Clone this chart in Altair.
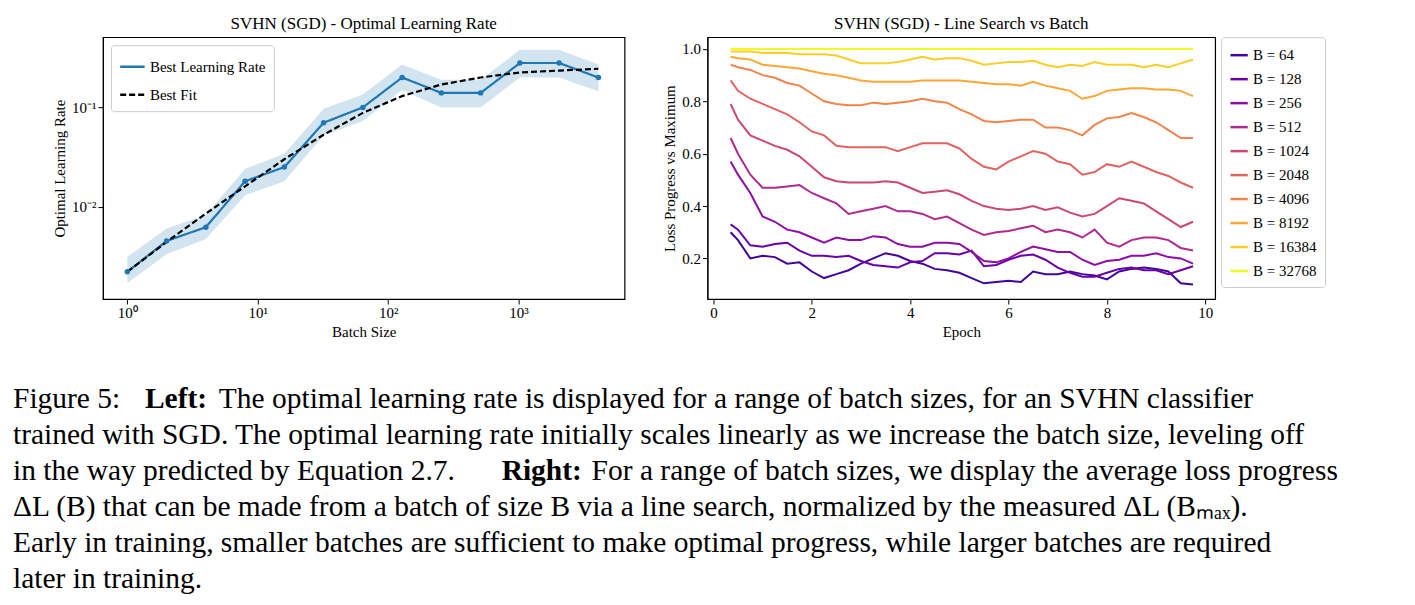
import altair as alt
import pandas as pd

FONT = "Liberation Serif"

# ---- left panel data ----
batch = [1, 2, 4, 8, 16, 32, 64, 128, 256, 512, 1024, 2048, 4096]
best_lr = [0.0022, 0.0045, 0.0062, 0.018, 0.025, 0.07, 0.1, 0.2, 0.14, 0.14, 0.28, 0.28, 0.2]
lr_lo = [0.0017, 0.0033, 0.0047, 0.013, 0.018, 0.052, 0.073, 0.15, 0.10, 0.10, 0.2, 0.2, 0.145]
lr_hi = [0.0031, 0.006, 0.0082, 0.024, 0.034, 0.097, 0.135, 0.27, 0.19, 0.19, 0.38, 0.38, 0.27]
best_fit = [0.0022, 0.0044, 0.0085, 0.016, 0.03, 0.053, 0.088, 0.13, 0.17, 0.2, 0.225, 0.235, 0.245]

# ---- right panel data ----
epochs = [0.35, 0.5, 0.75, 1, 1.25, 1.5, 1.75, 2, 2.25, 2.5, 2.75, 3, 3.25, 3.5, 3.75, 4, 4.25, 4.5, 4.75, 5,
          5.25, 5.5, 5.75, 6, 6.25, 6.5, 6.75, 7, 7.25, 7.5, 7.75, 8, 8.25, 8.5, 8.75, 9, 9.25, 9.5, 9.75]
b64 = [0.30, 0.27, 0.20, 0.21, 0.205, 0.18, 0.185, 0.15, 0.125, 0.14, 0.155, 0.18, 0.20, 0.22, 0.21, 0.19, 0.18, 0.16, 0.155, 0.145,
       0.125, 0.105, 0.11, 0.115, 0.11, 0.15, 0.14, 0.14, 0.15, 0.14, 0.135, 0.12, 0.15, 0.16, 0.165, 0.16, 0.15, 0.105, 0.10]
b128 = [0.33, 0.31, 0.25, 0.245, 0.255, 0.26, 0.23, 0.21, 0.21, 0.205, 0.21, 0.19, 0.175, 0.17, 0.165, 0.185, 0.19, 0.22, 0.22, 0.215,
        0.23, 0.17, 0.175, 0.195, 0.21, 0.215, 0.195, 0.165, 0.145, 0.13, 0.13, 0.145, 0.16, 0.165, 0.155, 0.155, 0.14, 0.155, 0.17]
b256 = [0.57, 0.52, 0.45, 0.36, 0.34, 0.31, 0.30, 0.28, 0.26, 0.28, 0.27, 0.27, 0.285, 0.28, 0.255, 0.245, 0.245, 0.26, 0.26, 0.255,
        0.225, 0.19, 0.185, 0.20, 0.225, 0.245, 0.235, 0.225, 0.225, 0.195, 0.175, 0.19, 0.195, 0.21, 0.21, 0.22, 0.205, 0.20, 0.18]
b512 = [0.66, 0.60, 0.52, 0.47, 0.47, 0.475, 0.48, 0.45, 0.43, 0.41, 0.37, 0.38, 0.39, 0.40, 0.38, 0.38, 0.37, 0.35, 0.36, 0.335,
        0.31, 0.29, 0.30, 0.305, 0.315, 0.325, 0.30, 0.31, 0.30, 0.28, 0.31, 0.26, 0.245, 0.27, 0.28, 0.28, 0.27, 0.24, 0.23]
b1024 = [0.79, 0.73, 0.67, 0.65, 0.63, 0.615, 0.59, 0.55, 0.51, 0.495, 0.49, 0.49, 0.49, 0.495, 0.49, 0.47, 0.45, 0.455, 0.46, 0.445,
         0.42, 0.40, 0.39, 0.385, 0.39, 0.40, 0.385, 0.395, 0.375, 0.36, 0.37, 0.40, 0.43, 0.42, 0.41, 0.38, 0.35, 0.32, 0.34]
b2048 = [0.88, 0.84, 0.81, 0.79, 0.77, 0.75, 0.72, 0.685, 0.67, 0.63, 0.625, 0.625, 0.625, 0.625, 0.61, 0.625, 0.64, 0.64, 0.64, 0.62,
         0.58, 0.55, 0.54, 0.57, 0.59, 0.61, 0.60, 0.57, 0.56, 0.52, 0.53, 0.56, 0.55, 0.57, 0.55, 0.53, 0.515, 0.49, 0.47]
b4096 = [0.94, 0.93, 0.92, 0.90, 0.89, 0.87, 0.86, 0.83, 0.80, 0.79, 0.785, 0.785, 0.795, 0.79, 0.795, 0.80, 0.81, 0.80, 0.795, 0.77,
         0.75, 0.725, 0.72, 0.725, 0.73, 0.73, 0.70, 0.70, 0.69, 0.67, 0.71, 0.735, 0.74, 0.755, 0.74, 0.72, 0.69, 0.66, 0.66]
b8192 = [0.97, 0.965, 0.96, 0.94, 0.935, 0.93, 0.925, 0.915, 0.905, 0.90, 0.89, 0.88, 0.875, 0.875, 0.875, 0.875, 0.88, 0.88, 0.88, 0.88,
         0.875, 0.87, 0.865, 0.865, 0.86, 0.875, 0.86, 0.85, 0.84, 0.81, 0.82, 0.84, 0.845, 0.85, 0.85, 0.845, 0.845, 0.84, 0.82]
b16384 = [0.99, 0.99, 0.99, 0.985, 0.985, 0.985, 0.98, 0.98, 0.98, 0.975, 0.96, 0.945, 0.945, 0.945, 0.95, 0.96, 0.97, 0.96, 0.965, 0.965,
          0.955, 0.94, 0.945, 0.95, 0.95, 0.955, 0.94, 0.93, 0.94, 0.935, 0.95, 0.94, 0.94, 0.94, 0.93, 0.94, 0.93, 0.945, 0.96]
b32768 = [1.0] * len(epochs)

series = {64: b64, 128: b128, 256: b256, 512: b512, 1024: b1024, 2048: b2048,
          4096: b4096, 8192: b8192, 16384: b16384, 32768: b32768}
plasma = ["#41049d", "#6a00a8", "#8f0da4", "#b12a90", "#cc4778", "#e16462",
          "#f2844b", "#fca636", "#fcce25", "#f0f921"]

# ---- caption (text, bold, x on page, line) ----
caption = [
    ("Figure 5:", False, 0, 0),
    ("Left:", True, 132, 0),
    ("The optimal learning rate is displayed for a range of batch sizes, for an SVHN classifier", False, 206, 0),
    ("trained with SGD. The optimal learning rate initially scales linearly as we increase the batch size, leveling off", False, 0, 1),
    ("in the way predicted by Equation 2.7.", False, 0, 2),
    ("Right:", True, 489, 2),
    ("For a range of batch sizes, we display the average loss progress", False, 579, 2),
    ("ΔL (B) that can be made from a batch of size B via a line search, normalized by the measured ΔL (Bₘₐₓ).", False, 0, 3),
    ("Early in training, smaller batches are sufficient to make optimal progress, while larger batches are required", False, 0, 4),
    ("later in training.", False, 0, 5),
]

# ---------------- left chart ----------------
ldf = pd.DataFrame({"batch": batch, "lr": best_lr, "lo": lr_lo, "hi": lr_hi})
fdf = pd.DataFrame({"batch": batch, "lr": best_fit})
both = pd.concat([ldf.assign(s="Best Learning Rate")[["batch", "lr", "s"]], fdf.assign(s="Best Fit")])

xs = alt.Scale(type="log", domain=[0.65, 6500], nice=False)
ys = alt.Scale(type="log", domain=[0.00117, 0.51], nice=False)
xax = alt.Axis(values=[1, 10, 100, 1000], grid=False, title="Batch Size",
               labelExpr="datum.value==1?'10⁰':datum.value==10?'10¹':datum.value==100?'10²':'10³'")
yax = alt.Axis(values=[0.01, 0.1], grid=False, title="Optimal Learning Rate",
               labelExpr="datum.value<0.05?'10⁻²':'10⁻¹'")

band = alt.Chart(ldf).mark_area(color="#1f77b4", opacity=0.2).encode(
    x=alt.X("batch:Q", scale=xs, axis=xax), y=alt.Y("lo:Q", scale=ys, axis=yax), y2="hi:Q")
lines = alt.Chart(both).mark_line(strokeWidth=2.2).encode(
    x=alt.X("batch:Q", scale=xs), y=alt.Y("lr:Q", scale=ys),
    color=alt.Color("s:N", scale=alt.Scale(domain=["Best Learning Rate", "Best Fit"], range=["#1f77b4", "black"]),
                    legend=alt.Legend(title=None, orient="top-left", fillColor="white", strokeColor="#cccccc",
                                      padding=8, cornerRadius=3, labelFontSize=15, symbolSize=600,
                                      symbolStrokeWidth=2.5, rowPadding=6, offset=8)),
    strokeDash=alt.StrokeDash("s:N", scale=alt.Scale(domain=["Best Learning Rate", "Best Fit"], range=[[1, 0], [6, 3]]),
                              legend=None))
pts = alt.Chart(ldf).mark_point(filled=True, size=30, color="#1f77b4", opacity=1).encode(
    x=alt.X("batch:Q", scale=xs), y=alt.Y("lr:Q", scale=ys))
left = alt.layer(band, lines, pts).properties(
    width=522, height=262, title="SVHN (SGD) - Optimal Learning Rate")

# ---------------- right chart ----------------
rows = []
for b, vals in series.items():
    for e, v in zip(epochs, vals):
        rows.append({"epoch": e, "v": v, "B": f"B = {b}", "order": b})
rdf = pd.DataFrame(rows)
labels = [f"B = {b}" for b in series]
right = alt.Chart(rdf).mark_line(strokeWidth=2).encode(
    x=alt.X("epoch:Q", scale=alt.Scale(domain=[-0.12, 10.2], nice=False),
            axis=alt.Axis(values=[0, 2, 4, 6, 8, 10], grid=False, title="Epoch")),
    y=alt.Y("v:Q", scale=alt.Scale(domain=[0.045, 1.045], nice=False),
            axis=alt.Axis(values=[0.2, 0.4, 0.6, 0.8, 1.0], format=".1f", grid=False, title="Loss Progress vs Maximum")),
    color=alt.Color("B:N", sort=labels, scale=alt.Scale(domain=labels, range=plasma),
                    legend=alt.Legend(title=None, orient="right", strokeColor="#cccccc", padding=8,
                                      cornerRadius=3, labelFontSize=15, symbolType="stroke",
                                      symbolStrokeWidth=2.5, symbolSize=300, rowPadding=6, offset=6)),
    detail="order:Q",
).properties(width=508, height=262, title="SVHN (SGD) - Line Search vs Batch")

top = alt.hconcat(left, right, spacing=36).resolve_scale(color="independent", strokeDash="independent")

# ---------------- caption ----------------
cdf = pd.DataFrame([{"t": t, "bold": "bold" if b else "normal", "x": x, "line": l} for t, b, x, l in caption])
CW = 1300
cap_base = alt.Chart(cdf).encode(
    x=alt.X("x:Q", scale=alt.Scale(domain=[90, 90 + CW], range=[0, CW]), axis=None),
    y=alt.Y("line:Q", scale=alt.Scale(domain=[-0.5, 5.5], range=[0, 216]), axis=None),
    text="t:N")
cap_n = cap_base.transform_filter("datum.bold=='normal'").mark_text(
    align="left", baseline="middle", font=FONT, fontSize=29.5, color="black")
cap_b = cap_base.transform_filter("datum.bold=='bold'").mark_text(
    align="left", baseline="middle", font=FONT, fontSize=29.5, fontWeight="bold", color="black")
cap = alt.layer(cap_n, cap_b).properties(width=CW, height=216, view=alt.ViewConfig(strokeWidth=0, stroke="transparent"))

chart = alt.vconcat(top, cap, spacing=40).configure(font=FONT).configure_view(
    stroke="black", strokeWidth=1.2).configure_axis(
    labelFont=FONT, titleFont=FONT, labelFontSize=15, titleFontSize=15, labelColor="black",
    titleColor="black", domainColor="black", tickColor="black", titleFontWeight="normal").configure_title(
    font=FONT, fontSize=17, fontWeight="normal", offset=4).configure_legend(labelFont=FONT, labelColor="black")

chart.save("out.html", embed_options={"renderer": "svg", "actions": False})
